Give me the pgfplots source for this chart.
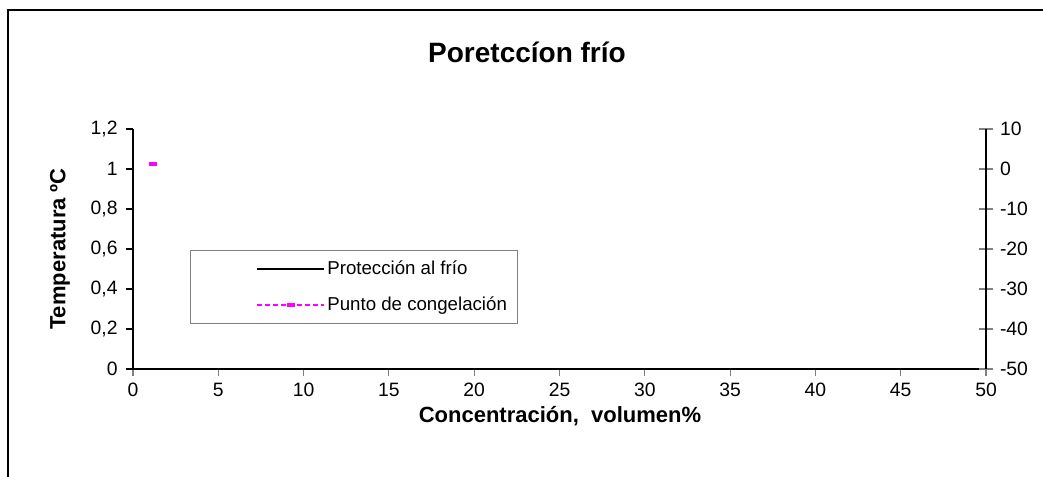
\documentclass[border=0pt]{standalone}
\usepackage{fontspec}
\setmainfont{Liberation Sans}
\usepackage{pgfplots}
\pgfplotsset{compat=1.18}
\definecolor{mag}{RGB}{255,0,255}
\begin{document}
\begin{tikzpicture}
\useasboundingbox (0pt,0pt) rectangle (782.25pt,357.75pt);
\draw[line width=1.6pt] (6pt,350.25pt) rectangle (800pt,-20pt);
\begin{axis}[
  at={(99.75pt,81pt)}, anchor=south west,
  width=639.75pt, height=180pt, scale only axis,
  xmin=0, xmax=50, ymin=0, ymax=1.2,
  xtick={0,5,10,15,20,25,30,35,40,45,50},
  ytick={0,0.2,0.4,0.6,0.8,1,1.2},
  axis x line*=bottom, axis y line*=left,
  axis line style={line width=0.8pt},
  tick align=outside, major tick length=5pt,
  x tick style={gray, line width=0.8pt},
  y tick style={black, line width=0.8pt},
  /pgf/number format/assume math mode=true,
  /pgf/number format/use comma, /pgf/number format/fixed,
  tick label style={font=\fontsize{14.5}{16}\selectfont},
  xticklabel style={inner ysep=5pt, text height=10.5pt, text depth=0pt},
  yticklabel style={xshift=-3pt},
  legend style={at={(0.0668,0.4958)}, anchor=north west, draw=gray,
    line width=0.6pt, font=\fontsize{14}{16}\selectfont,
    row sep=11pt, inner xsep=6pt, inner ysep=6pt},
  legend cell align=left,
  legend image code/.code={
    \path[draw=none] (-44pt,0pt) -- (0pt,0pt);
    \draw[#1, mark repeat=2, mark phase=2] plot coordinates {(0pt,0pt) (25pt,0pt) (50pt,0pt)};
  },
]
\addlegendimage{black, line width=1.5pt}
\addlegendentry{Protección al frío}
\addplot[mag, line width=1.4pt, dash pattern=on 3.5pt off 2.5pt,
  mark=square*, mark size=2.6pt, mark options={solid, yscale=0.45, line width=0.4pt}]
  coordinates {(1.17,1.025)};
\addlegendentry{Punto de congelación}
\end{axis}
\begin{axis}[
  at={(99.75pt,81pt)}, anchor=south west,
  width=639.75pt, height=180pt, scale only axis,
  xmin=0, xmax=50, ymin=-50, ymax=10,
  xtick=\empty,
  ytick={-50,-40,-30,-20,-10,0,10},
  axis y line*=right, axis x line=none,
  axis line style={line width=0.8pt},
  tick align=center, major tick length=10pt,
  y tick style={gray, line width=0.8pt},
  /pgf/number format/assume math mode=true,
  tick label style={font=\fontsize{14.5}{16}\selectfont},
  yticklabel style={xshift=2pt},
]
\addplot[draw=none] coordinates {(0,0)};
\end{axis}
\node[font=\fontsize{21}{24}\selectfont\bfseries] at (395.25pt,318.75pt) {Poretccíon frío};
\node[font=\fontsize{16.5}{20}\selectfont\bfseries] at (420pt,46pt) {Concentración,\ \ volumen\%};
\node[font=\fontsize{16.5}{20}\selectfont\bfseries, rotate=90] at (45pt,171pt) {Temperatura ºC};
\end{tikzpicture}
\end{document}
